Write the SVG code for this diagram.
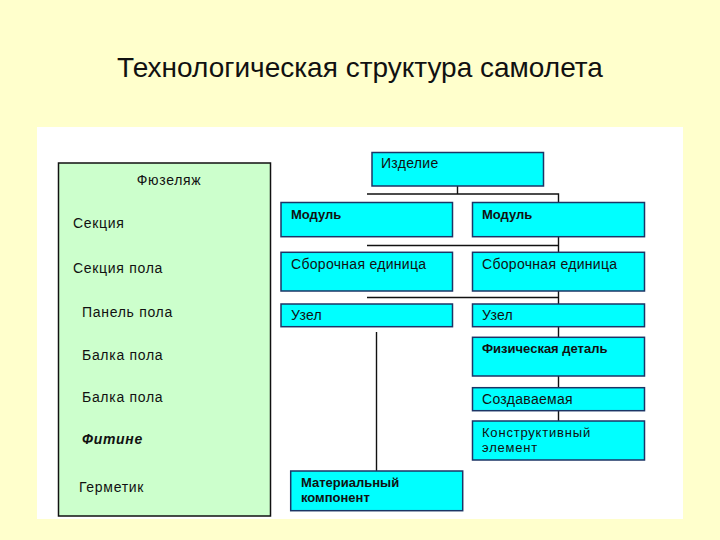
<svg xmlns="http://www.w3.org/2000/svg" width="720" height="540" viewBox="0 0 720 540">
<style>
text{font-family:"Liberation Sans",Arial,sans-serif;fill:#111;}
.t{font-size:14px;letter-spacing:0.3px;}
.k{font-size:13px;letter-spacing:0.8px;}
.l{font-size:14px;letter-spacing:0.7px;}
.b{font-size:13px;font-weight:bold;letter-spacing:0;}
.box{fill:#00FFFF;stroke:#1c3566;stroke-width:1.5;}
.ln{stroke:#111;stroke-width:1.4;fill:none;}
</style>
<rect x="0" y="0" width="720" height="540" fill="#FFFFCC"/>
<rect x="37" y="127" width="646" height="392" fill="#FFFFFF"/>
<text x="360" y="77" text-anchor="middle" font-size="28">Технологическая структура самолета</text>
<g id="fuselage">
<rect x="58.5" y="163" width="212" height="353" fill="#CCFFCC" stroke="#111" stroke-width="1.5"/>
<text class="l" x="169" y="185" text-anchor="middle">Фюзеляж</text>
<text class="l" x="73" y="228">Секция</text>
<text class="l" x="73" y="273">Секция пола</text>
<text class="l" x="82" y="317">Панель пола</text>
<text class="l" x="82" y="360">Балка пола</text>
<text class="l" x="82" y="402">Балка пола</text>
<text class="l" x="82" y="444" font-weight="bold" font-style="italic" letter-spacing="0.4">Фитине</text>
<text class="l" x="79" y="492">Герметик</text>
</g>
<g id="connectors">
<path class="ln" d="M457.5 186V194M367 194H558.5V202.5"/>
<path class="ln" d="M558.5 236.7V252.3M367 245.5H558.5"/>
<path class="ln" d="M558.5 291V304M367 297.5H558.5"/>
<path class="ln" d="M376.5 332V471"/>
<path class="ln" d="M558.5 326.7V337.3M558.5 376V387.7M558.5 410.7V421"/>
</g>
<g id="izdelie"><rect class="box" x="372" y="152.5" width="171.5" height="33.5"/><text class="t" x="381" y="168">Изделие</text></g>
<g id="modul1"><rect class="box" x="281" y="202.5" width="171.5" height="34.2"/><text class="b" x="291" y="219">Модуль</text></g>
<g id="modul2"><rect class="box" x="472.5" y="202.5" width="172" height="34.2"/><text class="b" x="482" y="219">Модуль</text></g>
<g id="sbor1"><rect class="box" x="281" y="252.3" width="171.5" height="38.7"/><text class="t" x="291" y="269">Сборочная единица</text></g>
<g id="sbor2"><rect class="box" x="472.5" y="252.3" width="172" height="38.7"/><text class="t" x="482" y="269">Сборочная единица</text></g>
<g id="uzel1"><rect class="box" x="281" y="304" width="171.5" height="22.7"/><text class="t" x="291" y="320">Узел</text></g>
<g id="uzel2"><rect class="box" x="472.5" y="304" width="172" height="22.7"/><text class="t" x="482" y="320">Узел</text></g>
<g id="phys"><rect class="box" x="472.5" y="337.3" width="172" height="38.7"/><text class="b" x="482" y="353">Физическая деталь</text></g>
<g id="sozd"><rect class="box" x="472.5" y="387.7" width="172" height="23"/><text class="t" x="482" y="404">Создаваемая</text></g>
<g id="konstr"><rect class="box" x="472.5" y="421" width="172" height="39"/><text class="k" x="482" y="436.5">Конструктивный</text><text class="k" x="482" y="451.5">элемент</text></g>
<g id="material"><rect class="box" x="290.7" y="471" width="172" height="39.7"/><text class="b" x="301" y="487">Материальный</text><text class="b" x="301" y="501.5">компонент</text></g>
</svg>
